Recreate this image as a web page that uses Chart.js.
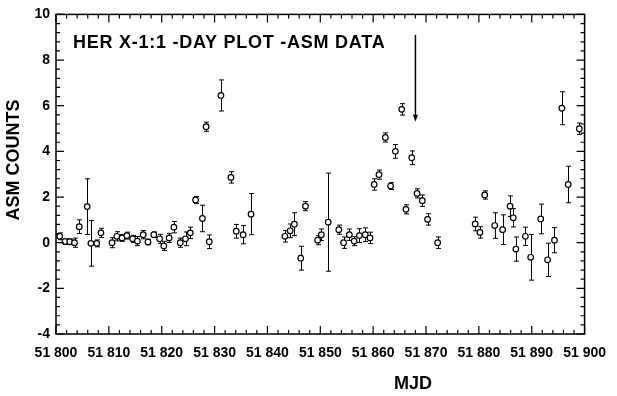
<!DOCTYPE html>
<html>
<head>
<meta charset="utf-8">
<script src="https://cdn.jsdelivr.net/npm/chart.js@4.4.1/dist/chart.umd.min.js"></script>
<style>
  html, body { margin: 0; padding: 0; background: #fff; }
  #c { display: block; }
</style>
</head>
<body>
<canvas id="c" width="617" height="396"></canvas>
<script>
// ---- data ----
const mjd = [
  51800.7, 51801.7, 51802.6, 51803.5, 51804.4, 51805.9, 51806.6, 51807.7, 51808.5,
  51810.6, 51811.5, 51812.5, 51813.4, 51814.5, 51815.4, 51816.5, 51817.4, 51818.5,
  51819.6, 51820.4, 51821.4, 51822.3, 51823.5, 51824.5, 51825.4, 51826.4, 51827.7,
  51828.4, 51829.0, 51831.2, 51833.1, 51834.1, 51835.4, 51836.9,
  51843.3, 51844.3, 51845.1, 51846.3, 51847.2, 51849.5, 51850.2, 51851.5, 51853.5,
  51854.4, 51855.5, 51856.4, 51857.4, 51858.5, 51859.4, 51860.2, 51861.1, 51862.3,
  51863.3, 51864.2, 51865.4, 51866.2, 51867.3, 51868.3, 51869.3, 51870.3, 51872.2,
  51879.3, 51880.2, 51881.1, 51883.0, 51884.5, 51885.9, 51886.5, 51887.0, 51888.8,
  51889.8, 51891.7, 51893.0, 51894.3, 51895.7, 51896.9, 51899.0
];
const counts = [
  0.28, 0.05, 0.04, 0.00, 0.70, 1.58, -0.03, -0.03, 0.43,
  0.00, 0.28, 0.21, 0.31, 0.17, 0.07, 0.35, 0.03, 0.35,
  0.17, -0.14, 0.21, 0.68, 0.00, 0.17, 0.43, 1.87, 1.06,
  5.08, 0.04, 6.45, 2.86, 0.50, 0.35, 1.25,
  0.28, 0.52, 0.81, -0.68, 1.60, 0.11, 0.35, 0.90, 0.57,
  0.00, 0.35, 0.07, 0.31, 0.35, 0.21, 2.55, 2.98, 4.61,
  2.48, 4.00, 5.84, 1.46, 3.72, 2.16, 1.84, 1.02, 0.00,
  0.82, 0.45, 2.09, 0.75, 0.57, 1.60, 1.09, -0.28, 0.28,
  -0.64, 1.04, -0.75, 0.11, 5.89, 2.55, 4.99
];
const errors = [
  0.15, 0.12, 0.12, 0.20, 0.30, 1.22, 1.00, 0.15, 0.20,
  0.22, 0.20, 0.15, 0.15, 0.15, 0.20, 0.18, 0.12, 0.12,
  0.20, 0.20, 0.20, 0.25, 0.20, 0.30, 0.25, 0.15, 0.58,
  0.20, 0.30, 0.68, 0.25, 0.30, 0.40, 0.90,
  0.25, 0.30, 0.50, 0.52, 0.20, 0.20, 0.25, 2.15, 0.20,
  0.25, 0.25, 0.20, 0.30, 0.30, 0.25, 0.25, 0.20, 0.20,
  0.15, 0.30, 0.25, 0.20, 0.30, 0.20, 0.25, 0.25, 0.25,
  0.30, 0.25, 0.18, 0.56, 0.65, 0.45, 0.40, 0.53, 0.40,
  1.00, 0.65, 0.73, 0.55, 0.72, 0.80, 0.25
];
const xTickValues = [51800, 51810, 51820, 51830, 51840, 51850, 51860, 51870, 51880, 51890, 51900];
const yTickValues = [-4, -2, 0, 2, 4, 6, 8, 10];
const chartTitle = 'HER X-1:1 -DAY PLOT -ASM DATA';
const xTitle = 'MJD';
const yTitle = 'ASM COUNTS';
const arrowMjd = 51868.0;
const arrowFrom = 9.1;
const arrowTo = 5.3;

const FONT = '"Liberation Sans", Arial, Helvetica, sans-serif';
const points = mjd.map((m, i) => ({ x: m, y: counts[i] }));

const decorPlugin = {
  id: 'decor',
  beforeDatasetsDraw(chart) {
    const { ctx, scales: { x, y } } = chart;
    ctx.save();
    ctx.strokeStyle = '#000';
    ctx.lineWidth = 1;
    for (let i = 0; i < mjd.length; i++) {
      const px = Math.round(x.getPixelForValue(mjd[i])) + 0.5;
      const y1 = y.getPixelForValue(counts[i] - errors[i]);
      const y2 = y.getPixelForValue(counts[i] + errors[i]);
      ctx.beginPath();
      ctx.moveTo(px, y1); ctx.lineTo(px, y2);
      ctx.moveTo(px - 2.5, y1); ctx.lineTo(px + 2.5, y1);
      ctx.moveTo(px - 2.5, y2); ctx.lineTo(px + 2.5, y2);
      ctx.stroke();
    }
    ctx.restore();
  },
  afterDraw(chart) {
    const { ctx, chartArea: a, scales: { x, y } } = chart;
    ctx.save();
    ctx.strokeStyle = '#000';
    // frame
    ctx.lineWidth = 1.5;
    ctx.strokeRect(a.left, a.top, a.right - a.left, a.bottom - a.top);
    // ticks
    ctx.lineWidth = 1.2;
    ctx.beginPath();
    for (let v = 51800; v <= 51900; v += 2) {
      const px = x.getPixelForValue(v);
      const L = (v % 10 === 0) ? 8 : 4;
      ctx.moveTo(px, a.bottom); ctx.lineTo(px, a.bottom - L);
      ctx.moveTo(px, a.top); ctx.lineTo(px, a.top + L);
    }
    for (let k = 0; k <= 35; k++) {
      const v = -4 + k * 0.4;
      const py = y.getPixelForValue(v);
      const L = (k % 5 === 0) ? 8 : 4;
      ctx.moveTo(a.left, py); ctx.lineTo(a.left + L, py);
      ctx.moveTo(a.right, py); ctx.lineTo(a.right - L, py);
    }
    ctx.stroke();
    // arrow
    const ax = x.getPixelForValue(arrowMjd);
    const ay1 = y.getPixelForValue(arrowFrom);
    const ay2 = y.getPixelForValue(arrowTo);
    ctx.lineWidth = 1.5;
    ctx.beginPath();
    ctx.moveTo(ax, ay1); ctx.lineTo(ax, ay2 - 3);
    ctx.stroke();
    ctx.fillStyle = '#000';
    ctx.beginPath();
    ctx.moveTo(ax, ay2); ctx.lineTo(ax - 2.5, ay2 - 7); ctx.lineTo(ax + 2.5, ay2 - 7);
    ctx.closePath(); ctx.fill();
    // texts
    ctx.fillStyle = '#000';
    ctx.font = 'bold 18px ' + FONT;
    ctx.textAlign = 'left';
    ctx.textBaseline = 'alphabetic';
    if ('letterSpacing' in ctx) ctx.letterSpacing = '0.75px';
    ctx.fillText(chartTitle, a.left + 17, a.top + 34);
    if ('letterSpacing' in ctx) ctx.letterSpacing = '0px';
    ctx.textAlign = 'center';
    ctx.textBaseline = 'middle';
    ctx.fillText(xTitle, 413, 384);
    ctx.translate(14, 160);
    ctx.rotate(-Math.PI / 2);
    ctx.fillText(yTitle, 0, 0);
    ctx.restore();
  }
};

new Chart(document.getElementById('c'), {
  type: 'scatter',
  data: {
    datasets: [{
      data: points,
      pointRadius: 2.8,
      pointHoverRadius: 2.8,
      pointBackgroundColor: '#fff',
      pointBorderColor: '#000',
      pointBorderWidth: 1.2,
      showLine: false
    }]
  },
  options: {
    responsive: false,
    animation: false,
    events: [],
    layout: { padding: { top: 5, right: 21, left: 0, bottom: 0 } },
    plugins: { legend: { display: false }, tooltip: { enabled: false }, title: { display: false } },
    scales: {
      x: {
        type: 'linear',
        min: 51800, max: 51900,
        afterBuildTicks: (s) => { s.ticks = xTickValues.map(v => ({ value: v })); },
        afterFit: (s) => { s.height = 62; },
        grid: { display: false, drawTicks: false },
        border: { display: false },
        ticks: {
          color: '#000',
          padding: 11,
          maxRotation: 0,
          autoSkip: false,
          font: { family: FONT, size: 14, weight: 'bold' },
          callback: (v) => { const s = String(v); return s.slice(0, 2) + ' ' + s.slice(2); }
        }
      },
      y: {
        min: -4, max: 10,
        afterBuildTicks: (s) => { s.ticks = yTickValues.map(v => ({ value: v })); },
        afterFit: (s) => { s.width = 56; },
        grid: { display: false, drawTicks: false },
        border: { display: false },
        ticks: {
          color: '#000',
          padding: 6,
          autoSkip: false,
          font: { family: FONT, size: 14, weight: 'bold' },
          callback: (v) => String(v)
        }
      }
    }
  },
  plugins: [decorPlugin]
});
</script>
</body>
</html>
